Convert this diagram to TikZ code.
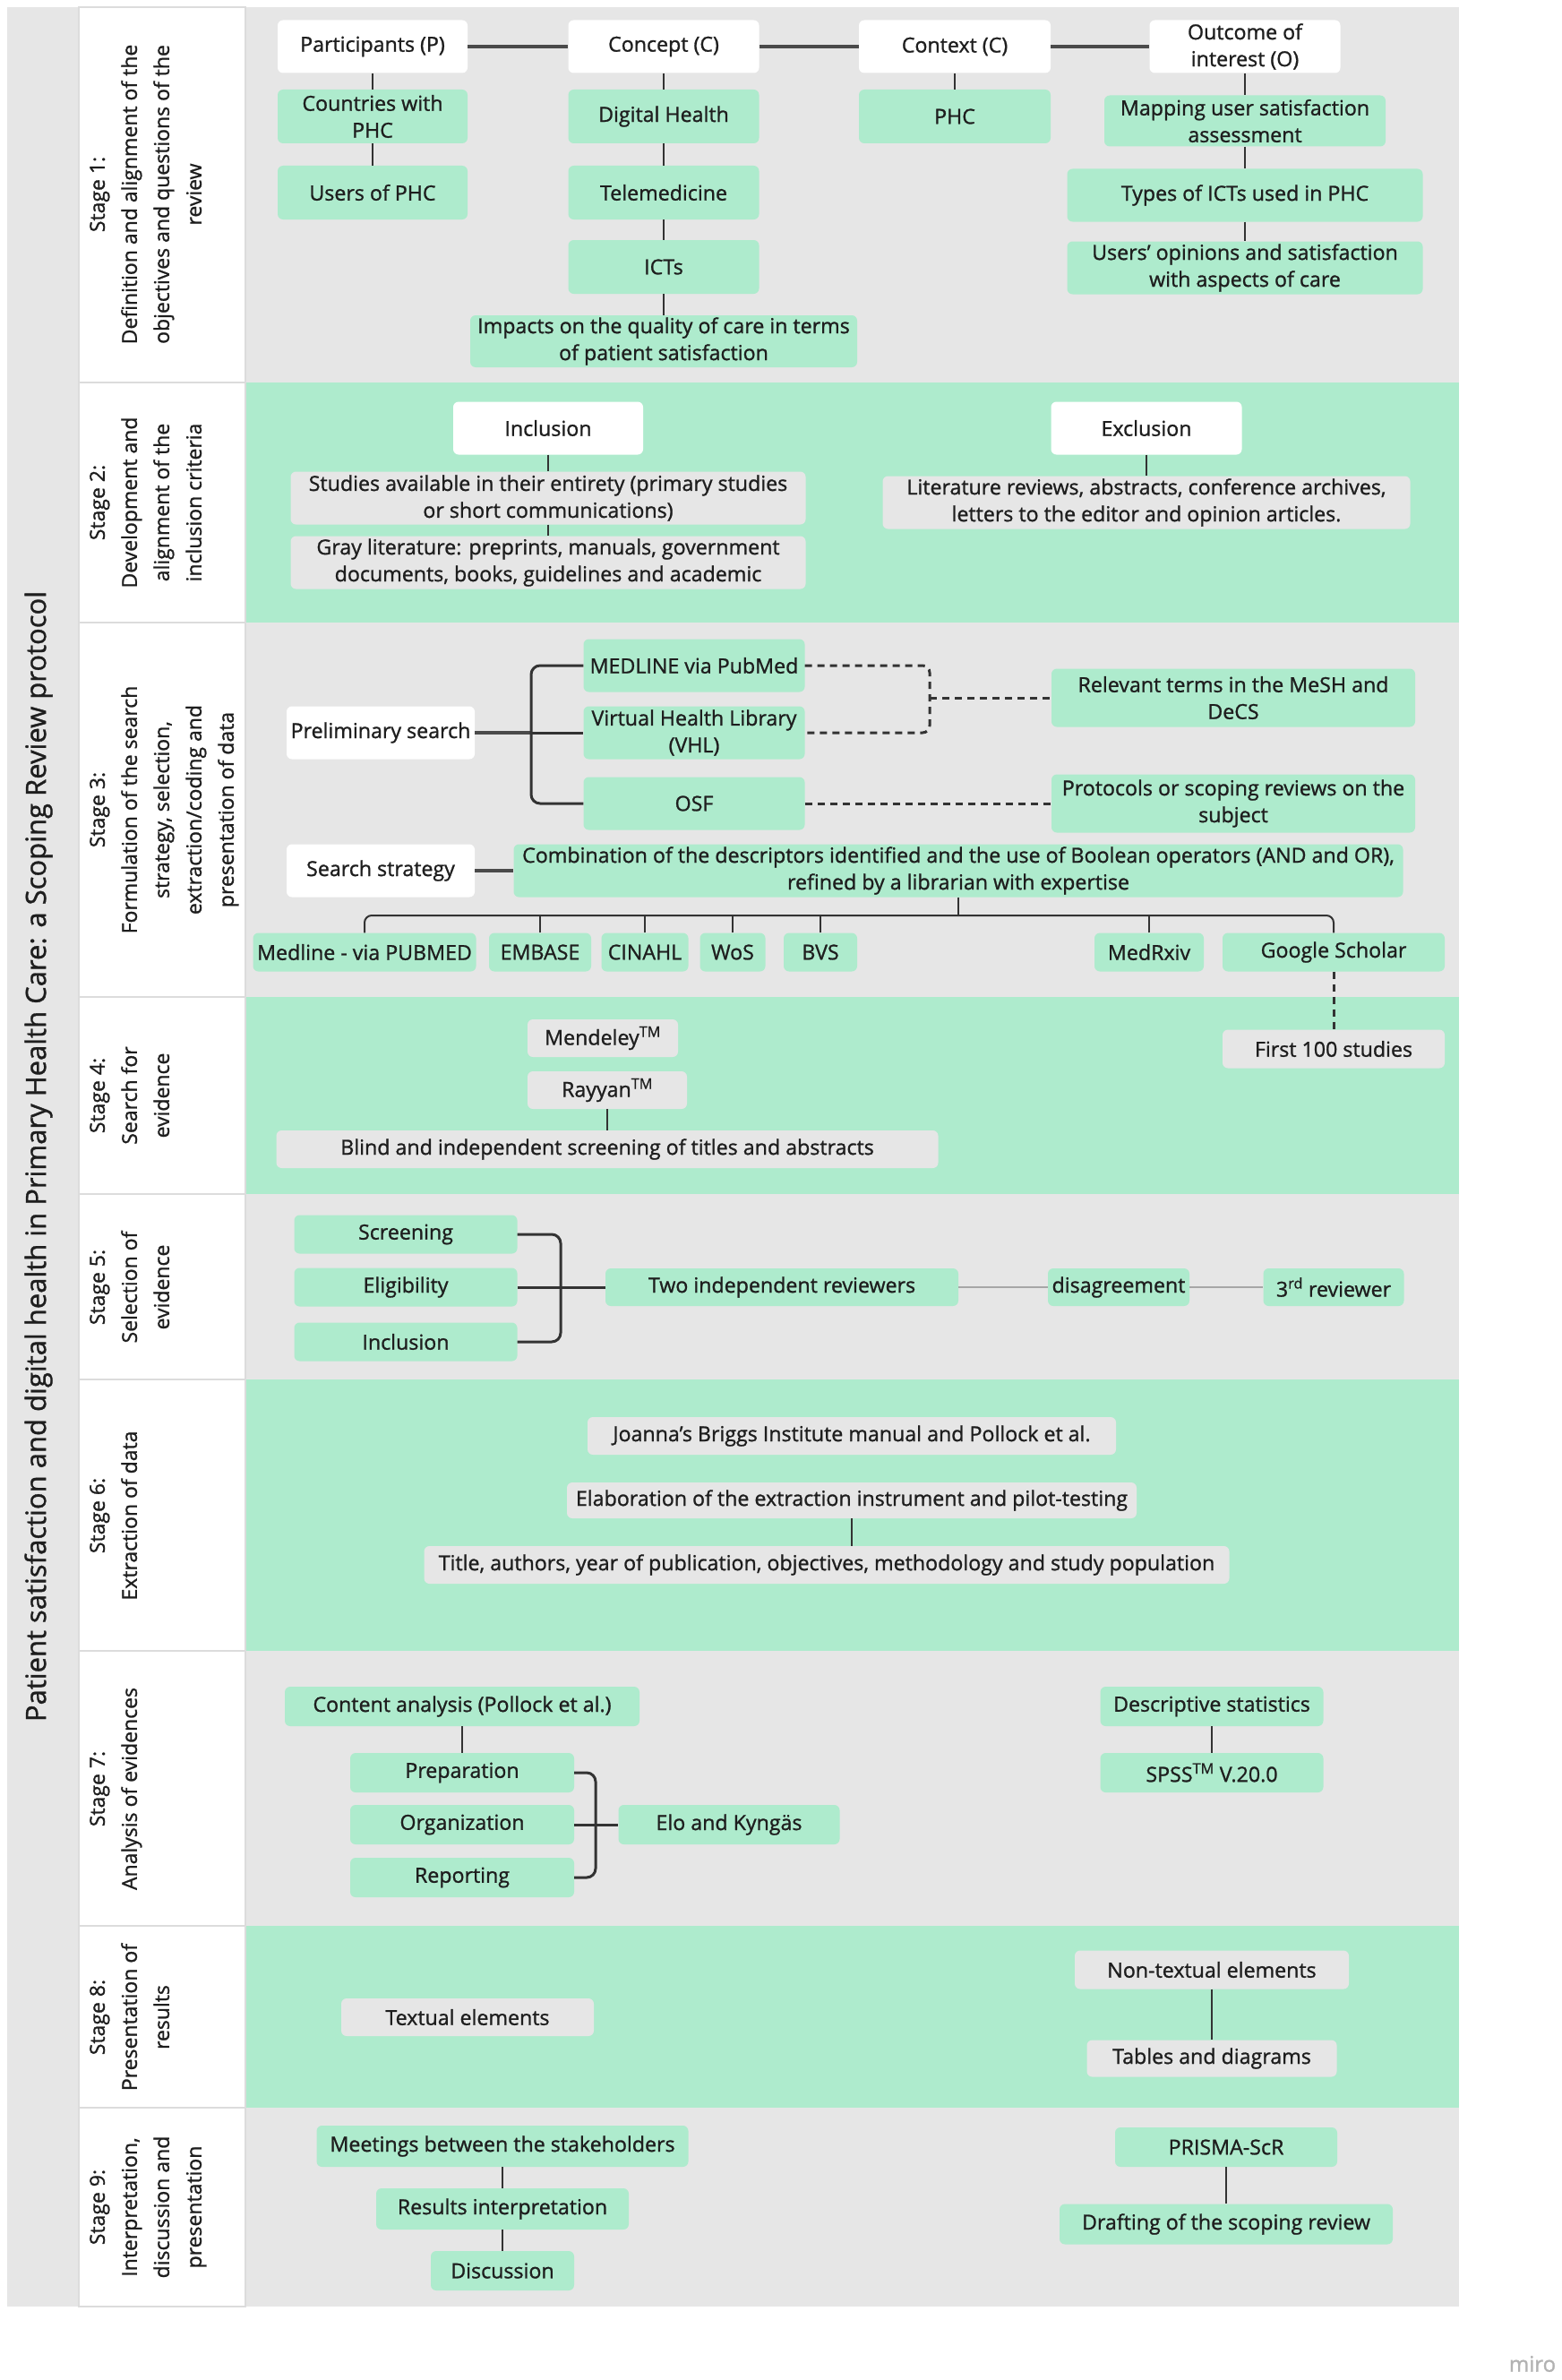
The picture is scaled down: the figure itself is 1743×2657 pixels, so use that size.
\documentclass[tikz,border=0pt]{standalone}
\usepackage{fontspec}
\setmainfont{Open Sans}[FakeBold=1.1]
\usetikzlibrary{calc}
\definecolor{grn}{HTML}{AEEBCD}
\definecolor{gry}{HTML}{E6E6E6}
\definecolor{txt}{HTML}{1E1E1E}
\definecolor{ln}{HTML}{333333}
\definecolor{hln}{HTML}{4A4A4A}
\definecolor{sepc}{HTML}{DCDCDC}
\newcommand\bxfont{\fontsize{23.2}{30}\selectfont}
\newcommand\lbfont{\fontsize{23}{36}\selectfont}
\newcommand\mybox[7]{\node[#1, minimum width=#5pt, minimum height=#6pt] (#2) at (#3,#4) {#7};}
\begin{document}
\begin{tikzpicture}[x=1pt,y=-1pt,
  nbox/.style={rounded corners=6pt, inner sep=0pt, align=center, font=\bxfont, text=txt},
  gbox/.style={nbox, fill=grn},
  ybox/.style={nbox, fill=gry},
  wbox/.style={nbox, fill=white},
  lnk/.style={draw=ln, line width=2pt},
  blnk/.style={draw=ln, line width=3pt},
  hlnk/.style={draw=hln, line width=4pt},
  dlnk/.style={draw=ln, line width=3pt, dash pattern=on 8pt off 6pt},
  glnk/.style={draw=gray!70, line width=2.5pt},
  lab/.style={rotate=90, anchor=north, align=center, inner sep=0pt, font=\lbfont, text=txt}
]
\fill[white] (0,0) rectangle (1743,2657);
\useasboundingbox (0,0) rectangle (1743,2657);
% columns
\fill[gry] (8,8) rectangle (88,2575);
\fill[white] (88,8) rectangle (274,2575);
\fill[gry] (274,8) rectangle (1629,427);
\fill[grn] (274,427) rectangle (1629,695);
\fill[gry] (274,695) rectangle (1629,1113);
\fill[grn] (274,1113) rectangle (1629,1333);
\fill[gry] (274,1333) rectangle (1629,1540);
\fill[grn] (274,1540) rectangle (1629,1843);
\fill[gry] (274,1843) rectangle (1629,2150);
\fill[grn] (274,2150) rectangle (1629,2353);
\fill[gry] (274,2353) rectangle (1629,2575);
\foreach \yy in {427,695,1113,1333,1540,1843,2150,2353}
  \draw[sepc, line width=2pt] (88,\yy) -- (274,\yy);
\draw[sepc, line width=2pt] (88,8) rectangle (274,2575);

% title
\node[rotate=90, font=\fontsize{31}{36}\selectfont, text=txt] (title) at (43,1291)
  {Patient satisfaction and digital health in Primary Health Care: a Scoping Review protocol};

% stage labels
\node[lab] (l1) at (100,217) {Stage 1:\\Definition and alignment of the\\objectives and questions of the\\review};
\node[lab] (l2) at (100,561) {Stage 2:\\Development and\\alignment of the\\inclusion criteria};
\node[lab] (l3) at (100,904) {Stage 3:\\Formulation of the search\\strategy, selection,\\extraction/coding and\\presentation of data};
\node[lab] (l4) at (100,1223) {Stage 4:\\Search for\\evidence};
\node[lab] (l5) at (100,1437) {Stage 5:\\Selection of\\evidence};
\node[lab] (l6) at (100,1692) {Stage 6:\\Extraction of data};
\node[lab] (l7) at (100,1997) {Stage 7:\\Analysis of evidences};
\node[lab] (l8) at (100,2252) {Stage 8:\\Presentation of\\results};
\node[lab] (l9) at (100,2464) {Stage 9:\\Interpretation,\\discussion and\\presentation};

% ---------- Stage 1
\mybox{wbox}{part}{416}{52}{212}{59}{Participants (P)}
\mybox{wbox}{conc}{741}{52}{213}{59}{Concept (C)}
\mybox{wbox}{ctx}{1066}{52}{214}{59}{Context (C)}
\mybox{wbox}{outc}{1390}{52}{213}{59}{Outcome of\\interest (O)}
\mybox{gbox}{ctry}{416}{130}{212}{60}{Countries with\\PHC}
\mybox{gbox}{usr}{416}{215}{212}{60}{Users of PHC}
\mybox{gbox}{dh}{741}{130}{213}{60}{Digital Health}
\mybox{gbox}{tele}{741}{215}{213}{60}{Telemedicine}
\mybox{gbox}{icts}{741}{298}{213}{60}{ICTs}
\mybox{gbox}{imp}{741}{381}{432}{58}{Impacts on the quality of care in terms\\of patient satisfaction}
\mybox{gbox}{phc}{1066}{130}{214}{60}{PHC}
\mybox{gbox}{map}{1390}{135}{314}{57}{Mapping user satisfaction\\assessment}
\mybox{gbox}{types}{1390}{218}{397}{59}{Types of ICTs used in PHC}
\mybox{gbox}{opin}{1390}{299}{397}{59}{Users' opinions and satisfaction\\with aspects of care}
\draw[hlnk] (part.east) -- (conc.west);
\draw[hlnk] (conc.east) -- (ctx.west);
\draw[hlnk] (ctx.east) -- (outc.west);
\draw[lnk] (part.south) -- (ctry.north);
\draw[lnk] (ctry.south) -- (usr.north);
\draw[lnk] (conc.south) -- (dh.north);
\draw[lnk] (dh.south) -- (tele.north);
\draw[lnk] (tele.south) -- (icts.north);
\draw[lnk] (icts.south) -- (imp.north);
\draw[lnk] (ctx.south) -- (phc.north);
\draw[lnk] (outc.south) -- (map.north);
\draw[lnk] (map.south) -- (types.north);
\draw[lnk] (types.south) -- (opin.north);

% ---------- Stage 2
\mybox{wbox}{incl}{612}{478}{212}{59}{Inclusion}
\mybox{wbox}{excl}{1280}{478}{213}{59}{Exclusion}
\mybox{ybox}{stud}{612}{556}{575}{59}{Studies available in their entirety (primary studies\\or short communications)}
\mybox{ybox}{grayl}{612}{628}{575}{59}{Gray literature: preprints, manuals, government\\documents, books, guidelines and academic}
\mybox{ybox}{litr}{1280}{561}{589}{59}{Literature reviews, abstracts, conference archives,\\letters to the editor and opinion articles.}
\draw[lnk] (incl.south) -- (stud.north);
\draw[lnk] (stud.south) -- (grayl.north);
\draw[lnk] (excl.south) -- (litr.north);

% ---------- Stage 3
\mybox{wbox}{prel}{425}{818}{210}{59}{Preliminary search}
\mybox{gbox}{medp}{775}{743}{247}{59}{MEDLINE via PubMed}
\mybox{gbox}{vhl}{775}{818}{247}{59}{Virtual Health Library\\(VHL)}
\mybox{gbox}{osf}{775}{897}{247}{59}{OSF}
\mybox{gbox}{rel}{1377}{779}{406}{65}{Relevant terms in the MeSH and\\DeCS}
\mybox{gbox}{prot}{1377}{897}{406}{65}{Protocols or scoping reviews on the\\subject}
\coordinate (tr) at (593,818);
\draw[hlnk] (prel.east) -- (tr);
\draw[blnk] (tr) -- (vhl.west);
\draw[blnk, rounded corners=10pt] (medp.west) -- (medp.west -| tr) -- (osf.west -| tr) -- (osf.west);
\coordinate (dj) at (1038,779);
\draw[dlnk, rounded corners=8pt] (medp.east) -- (medp.east -| dj) -- (vhl.east -| dj) -- (vhl.east);
\draw[dlnk] (dj) -- (rel.west);
\draw[dlnk] (osf.east) -- (prot.west);

\mybox{wbox}{sstr}{425}{972}{210}{59}{Search strategy}
\mybox{gbox}{comb}{1070}{972}{993}{59}{Combination of the descriptors identified and the use of Boolean operators (AND and OR),\\refined by a librarian with expertise}
\draw[hlnk] (sstr.east) -- (comb.west);
\mybox{gbox}{mdl}{407}{1063}{249}{43}{Medline - via PUBMED}
\mybox{gbox}{emb}{603}{1063}{114}{43}{EMBASE}
\mybox{gbox}{cin}{720}{1063}{97}{43}{CINAHL}
\mybox{gbox}{wos}{818}{1063}{73}{43}{WoS}
\mybox{gbox}{bvs}{916}{1063}{82}{43}{BVS}
\mybox{gbox}{mrx}{1283}{1063}{122}{43}{MedRxiv}
\mybox{gbox}{gsch}{1489}{1063}{248}{43}{Google Scholar}
\coordinate (bar) at (1070,1022);
\draw[lnk, rounded corners=8pt] (mdl.north) -- (mdl.north |- bar) -- (gsch.north |- bar) -- (gsch.north);
\foreach \nn in {emb,cin,wos,bvs,mrx}
  \draw[lnk] (\nn.north) -- (\nn.north |- bar);
\draw[lnk] (comb.south) -- (bar);

% ---------- Stage 4
\mybox{ybox}{mend}{673}{1159}{168}{42}{Mendeley\textsuperscript{TM}}
\mybox{ybox}{ray}{678}{1217}{178}{42}{Rayyan\textsuperscript{TM}}
\mybox{ybox}{blind}{678}{1283}{739}{42}{Blind and independent screening of titles and abstracts}
\mybox{ybox}{f100}{1489}{1171}{248}{43}{First 100 studies}
\draw[lnk] (ray.south) -- (blind.north);
\draw[dlnk] (gsch.south) -- (f100.north);

% ---------- Stage 5
\mybox{gbox}{scr}{453}{1378}{249}{43}{Screening}
\mybox{gbox}{elig}{453}{1437}{249}{43}{Eligibility}
\mybox{gbox}{inc5}{453}{1498}{249}{43}{Inclusion}
\mybox{gbox}{two}{873}{1437}{394}{42}{Two independent reviewers}
\mybox{gbox}{dis}{1249}{1437}{158}{42}{disagreement}
\mybox{gbox}{third}{1489}{1437}{157}{42}{3\textsuperscript{rd} reviewer}
\coordinate (b5) at (626,1437);
\draw[blnk, rounded corners=10pt] (scr.east) -- (scr.east -| b5) -- (inc5.east -| b5) -- (inc5.east);
\draw[blnk] (elig.east) -- (two.west);
\draw[glnk] (two.east) -- (dis.west);
\draw[glnk] (dis.east) -- (third.west);

% ---------- Stage 6
\mybox{ybox}{jbi}{951}{1603}{590}{42}{Joanna's Briggs Institute manual and Pollock et al.}
\mybox{ybox}{elab}{951}{1675}{636}{40}{Elaboration of the extraction instrument and pilot-testing}
\mybox{ybox}{ttl}{923}{1747}{899}{42}{Title, authors, year of publication, objectives, methodology and study population}
\draw[lnk] (elab.south) -- (elab.south |- ttl.north);

% ---------- Stage 7
\mybox{gbox}{cont}{516}{1905}{396}{44}{Content analysis (Pollock et al.)}
\mybox{gbox}{prep}{516}{1979}{250}{44}{Preparation}
\mybox{gbox}{org}{516}{2037}{250}{44}{Organization}
\mybox{gbox}{rep}{516}{2096}{250}{44}{Reporting}
\mybox{gbox}{elo}{814}{2037}{247}{44}{Elo and Kyngäs}
\mybox{gbox}{desc}{1353}{1905}{249}{44}{Descriptive statistics}
\mybox{gbox}{spss}{1353}{1979}{249}{44}{SPSS\textsuperscript{TM} V.20.0}
\draw[lnk] (cont.south) -- (prep.north);
\coordinate (b7) at (665,2037);
\draw[blnk, rounded corners=10pt] (prep.east) -- (prep.east -| b7) -- (rep.east -| b7) -- (rep.east);
\draw[blnk] (org.east) -- (elo.west);
\draw[lnk] (desc.south) -- (spss.north);

% ---------- Stage 8
\mybox{ybox}{txe}{522}{2252}{282}{42}{Textual elements}
\mybox{ybox}{ntx}{1353}{2199}{306}{43}{Non-textual elements}
\mybox{ybox}{tab}{1353}{2298}{279}{41}{Tables and diagrams}
\draw[lnk] (ntx.south) -- (tab.north);

% ---------- Stage 9
\mybox{gbox}{meet}{561}{2396}{415}{46}{Meetings between the stakeholders}
\mybox{gbox}{resi}{561}{2466}{282}{46}{Results interpretation}
\mybox{gbox}{disc}{561}{2535}{160}{44}{Discussion}
\mybox{gbox}{pris}{1369}{2397}{248}{44}{PRISMA-ScR}
\mybox{gbox}{draft}{1369}{2483}{372}{45}{Drafting of the scoping review}
\draw[lnk] (meet.south) -- (resi.north);
\draw[lnk] (resi.south) -- (disc.north);
\draw[lnk] (pris.south) -- (draft.north);

\node[text=gray!60, font=\fontsize{24}{24}\selectfont] (miro) at (1711,2639) {miro};
\end{tikzpicture}
\end{document}
